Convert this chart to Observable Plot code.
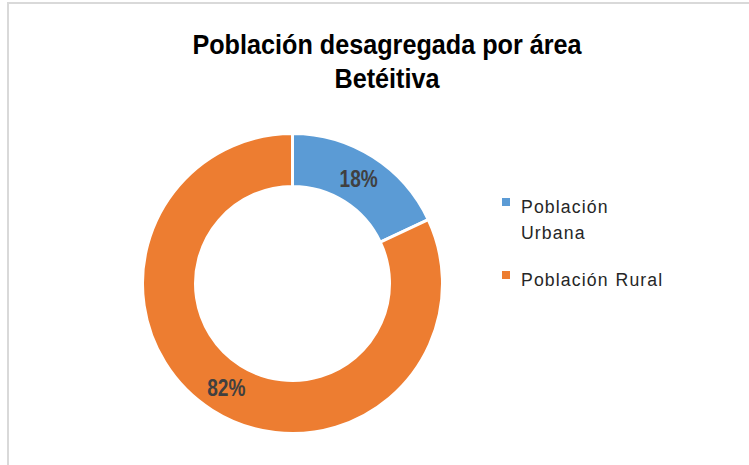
<!DOCTYPE html>
<html>
<head>
<meta charset="utf-8">
<script src="https://cdn.jsdelivr.net/npm/d3@7"></script>
<script src="https://cdn.jsdelivr.net/npm/@observablehq/plot@0.6"></script>
<style>
html, body { margin: 0; padding: 0; background: #fff; }
#chart { position: relative; width: 749px; height: 465px; overflow: hidden; }
#chart svg { position: absolute; left: 0; top: 0; }
#frame { position: absolute; left: 7px; top: 2px; right: -10px; bottom: -10px;
  border-top: 2px solid #d9d9d9; border-left: 2px solid #d9d9d9; pointer-events: none; }
</style>
</head>
<body>
<div id="chart"></div>
<script>
// ---- data ----
const titleLines = ["Población desagregada por área", "Betéitiva"];
const categories = ["Población Urbana", "Población Rural"];
const legendLines = [["Población", "Urbana"], ["Población Rural"]];
const shares = [18, 82];
const valueLabels = ["18%", "82%"];
const colors = ["#5B9BD5", "#ED7D31"];

const data = categories.map((c, i) => ({category: c, share: shares[i], label: valueLabels[i], lines: legendLines[i]}));
const color = Plot.scale({color: {type: "ordinal", domain: categories, range: colors}});

const sans = "'Liberation Sans', Arial, sans-serif";

function donutMark(index, scales, values, dimensions) {
  const cx = 292.5, cy = 283.5, rOuter = 150, rInner = 97;
  const g = d3.create("svg:g").attr("text-anchor", "start");

  // title (condensed bold look via horizontal scale)
  g.append("g")
    .attr("transform", "translate(387,0) scale(0.9,1)")
    .attr("font-family", sans)
    .attr("font-weight", "bold")
    .attr("font-size", 28)
    .attr("fill", "#000")
    .attr("text-anchor", "middle")
    .selectAll("text").data(titleLines).join("text")
    .attr("x", 0)
    .attr("y", (d, i) => 54 + i * 34)
    .text(d => d);

  // donut
  const pie = d3.pie().value(d => d.share).sort(null);
  const arc = d3.arc().innerRadius(rInner).outerRadius(rOuter);
  const arcs = pie(data);
  const ring = g.append("g").attr("transform", `translate(${cx},${cy})`);
  ring.selectAll("path").data(arcs).join("path")
    .attr("d", arc)
    .attr("fill", d => color.apply(d.data.category))
    .attr("stroke", "#fff")
    .attr("stroke-width", 3)
    .attr("stroke-linejoin", "miter");

  ring.selectAll("text").data(arcs).join("text")
    .attr("transform", d => { const [x, y] = arc.centroid(d); return `translate(${x},${y + 8}) scale(0.83,1)`; })
    .attr("text-anchor", "middle")
    .attr("font-family", sans)
    .attr("font-weight", "bold")
    .attr("font-size", 23)
    .attr("fill", "#404040")
    .text(d => d.data.label);

  // legend
  const legendTop = [198, 271];
  const lg = g.append("g");
  data.forEach((d, i) => {
    lg.append("rect")
      .attr("x", 502).attr("y", legendTop[i])
      .attr("width", 8).attr("height", 8)
      .attr("fill", color.apply(d.category));
    const t = lg.append("text")
      .attr("transform", "translate(521,0) scale(0.93,1)")
      .attr("text-anchor", "start")
      .attr("font-family", sans)
      .attr("font-size", 19)
      .attr("letter-spacing", "1.2px")
      .attr("word-spacing", "1px")
      .attr("fill", "#262626");
    d.lines.forEach((line, j) => {
      t.append("tspan").attr("x", 0).attr("y", legendTop[i] + 15 + j * 26).text(line);
    });
  });

  return g.node();
}

const chart = Plot.plot({
  width: 749,
  height: 465,
  margin: 0,
  style: {background: "transparent"},
  marks: [donutMark]
});
const host = document.getElementById("chart");
host.appendChild(chart);
const frame = document.createElement("div");
frame.id = "frame";
host.appendChild(frame);
</script>
</body>
</html>
